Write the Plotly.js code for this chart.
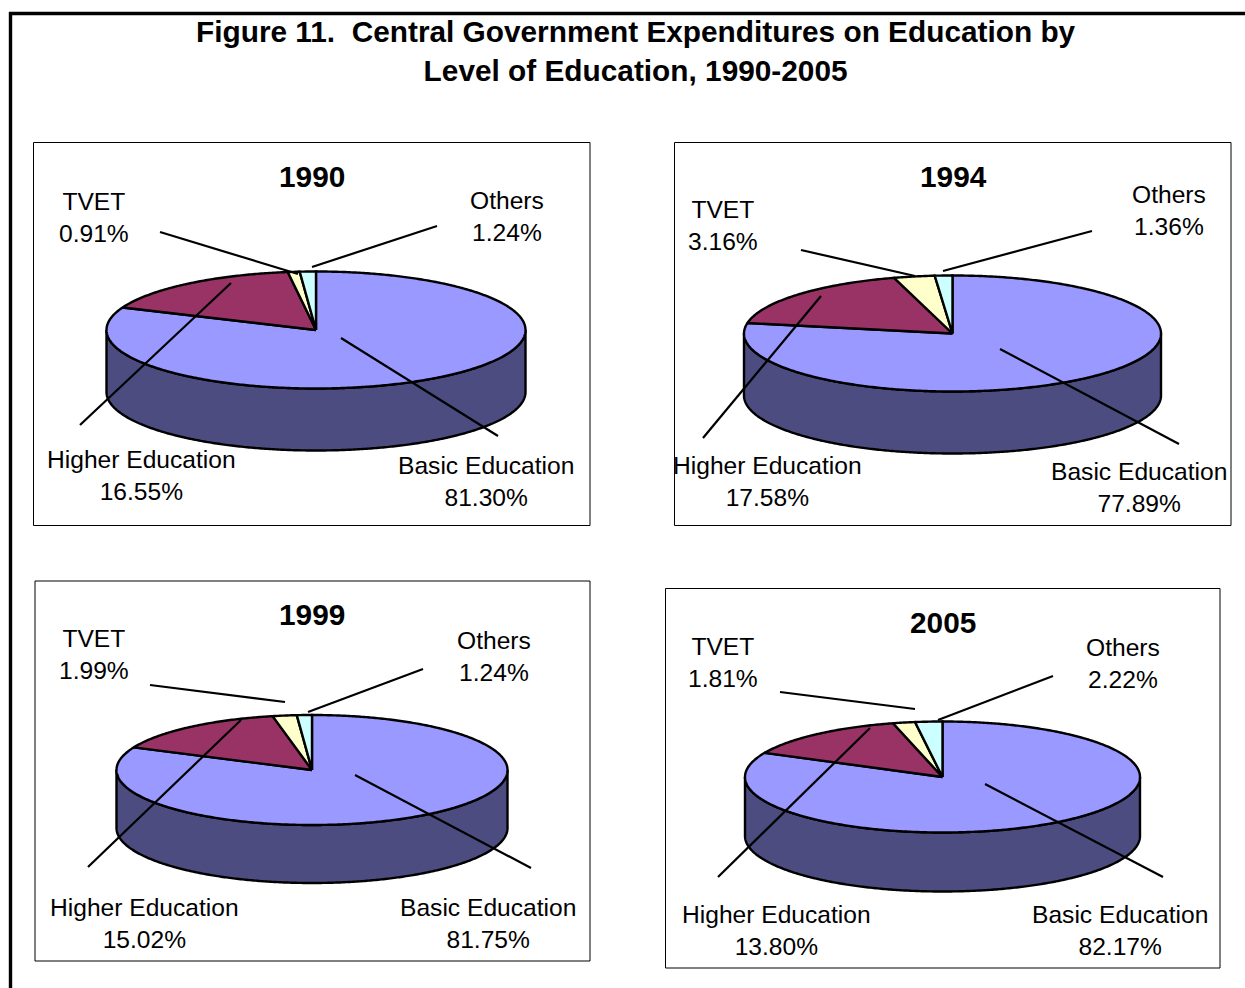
<!DOCTYPE html>
<html><head><meta charset="utf-8">
<script src="https://cdn.plot.ly/plotly-3.0.1.min.js"></script>
<style>html,body{margin:0;padding:0;background:#fff;overflow:hidden}</style>
</head><body><div id="chart" style="width:1245px;height:988px"></div>
<script>
// ---- data ----
const categories = ['Basic Education', 'Higher Education', 'TVET', 'Others'];
const years = ['1990', '1994', '1999', '2005'];
const basicEducation = [81.30, 77.89, 81.75, 82.17];
const higherEducation = [16.55, 17.58, 15.02, 13.80];
const tvet = [0.91, 3.16, 1.99, 1.81];
const others = [1.24, 1.36, 1.24, 2.22];
const sliceColors = ['#9999FF', '#993366', '#FFFFCC', '#CCFFFF'];
const wallColors = ['#4C4C80', '#4C1933', '#808066', '#668080'];

// ---- page layout (pixel-mapped axes) ----
const panelBoxes = [[33.5,142.5,590,525.5],[674.5,142.5,1231,525.5],[35,581,590,961],[665.5,588.5,1220,968]];
const pieGeom = [
  {cx:316, cy:330, a:209.5, b:58.5, d:62},
  {cx:952.5, cy:333.5, a:208.5, b:58, d:62},
  {cx:312, cy:770, a:195.5, b:55, d:58},
  {cx:942.5, cy:777, a:197.5, b:55.5, d:59}
];
const yearPos = [[312,176.5],[953,176.5],[312,614.5],[943,622.5]];
const labelPos = [
  [[486,481.5],[141,475.5],[94,217.5],[507,216.5]],
  [[1139,487.5],[767,481.5],[723,225.5],[1169,210.5]],
  [[488,923.5],[144.5,923.5],[94,654.5],[494,656.5]],
  [[1120,930],[776.5,930],[723,662.5],[1123,663.5]]
];
const leaders = [
  [[341,338,498,436],[231,283,80,425],[160,232,298,274],[437,226,312,267]],
  [[1000,349,1179,444],[821,296,703,438],[801,250,915,276],[1092,231,943,271]],
  [[355,775,531,868],[241,720,88,867],[150,685,285,702],[423,669,308,712]],
  [[985,784,1163,877],[870,728,718,877],[780,692,915,709],[1053,676,938,720]]
];

const FONT = '"Liberation Sans", Arial, sans-serif';
const traces = [], shapes = [], annotations = [];
const ln = (x0,y0,x1,y1,w) => ({type:'line',xref:'x',yref:'y',x0,y0,x1,y1,line:{color:'#000',width:w}});

years.forEach((yr, i) => {
  const g = pieGeom[i];
  const vals = [basicEducation[i], higherEducation[i], tvet[i], others[i]];
  const total = vals.reduce((s,v) => s+v, 0);
  const px = t => g.cx + g.a*Math.sin(t);
  const py = t => g.cy - g.b*Math.cos(t);
  let start = 0;
  const spans = vals.map(v => { const s = start; start += v/total*2*Math.PI; return [s,start]; });

  // side walls: the front-facing part of each slice
  spans.forEach(([s,e], k) => {
    const lo = Math.max(s, Math.PI/2), hi = Math.min(e, 3*Math.PI/2);
    if (hi <= lo) return;
    const n = Math.max(2, Math.ceil((hi-lo)/0.01));
    const xs = [], ys = [];
    for (let j=0;j<=n;j++){ const t = lo+(hi-lo)*j/n; xs.push(px(t)); ys.push(py(t)); }
    for (let j=n;j>=0;j--){ const t = lo+(hi-lo)*j/n; xs.push(px(t)); ys.push(py(t)+g.d); }
    xs.push(xs[0]); ys.push(ys[0]);
    traces.push({type:'scatter',mode:'lines',x:xs,y:ys,fill:'toself',fillcolor:wallColors[k],
      line:{color:'#000',width:2.4,simplify:false},hoverinfo:'skip',showlegend:false});
  });
  // top slices
  spans.forEach(([s,e], k) => {
    const n = Math.max(2, Math.ceil((e-s)/0.01));
    const xs = [g.cx], ys = [g.cy];
    for (let j=0;j<=n;j++){ const t = s+(e-s)*j/n; xs.push(px(t)); ys.push(py(t)); }
    xs.push(g.cx); ys.push(g.cy);
    traces.push({type:'scatter',mode:'lines',x:xs,y:ys,fill:'toself',fillcolor:sliceColors[k],
      line:{color:'#000',width:2.4,simplify:false},name:categories[k],
      text:yr+' '+categories[k]+' '+vals[k].toFixed(2)+'%',hoverinfo:'text',showlegend:false});
  });

  const b = panelBoxes[i];
  shapes.push({type:'rect',xref:'x',yref:'y',x0:b[0],y0:b[1],x1:b[2],y1:b[3],line:{color:'#000',width:1},layer:'below'});
  leaders[i].forEach(l => shapes.push(ln(l[0],l[1],l[2],l[3],2.2)));

  annotations.push({xref:'x',yref:'y',x:yearPos[i][0],y:yearPos[i][1],text:'<b>'+yr+'</b>',showarrow:false,
    xanchor:'center',yanchor:'middle',font:{family:FONT,size:29.8,color:'#000'}});
  categories.forEach((c,k) => annotations.push({xref:'x',yref:'y',x:labelPos[i][k][0],y:labelPos[i][k][1],
    text:c+'<br>'+vals[k].toFixed(2)+'%',showarrow:false,align:'center',xanchor:'center',yanchor:'middle',
    font:{family:FONT,size:24.6,color:'#000'}}));
});

annotations.push({xref:'x',yref:'y',x:635.5,y:51,showarrow:false,align:'center',xanchor:'center',yanchor:'middle',
  text:'<b>Figure 11.\u00a0 Central Government Expenditures on Education by<br>Level of Education, 1990-2005</b>',
  font:{family:FONT,size:29.8,color:'#000'}});
shapes.push(ln(10.5,12,10.5,988,3.4));
shapes.push(ln(9,13.5,1245,13.5,3.4));

Plotly.newPlot('chart', traces, {
  width:1245, height:988, margin:{l:0,r:0,t:0,b:0},
  paper_bgcolor:'#fff', plot_bgcolor:'#fff', showlegend:false,
  xaxis:{range:[0,1245],visible:false,fixedrange:true},
  yaxis:{range:[988,0],visible:false,fixedrange:true},
  shapes, annotations
}, {displayModeBar:false});
</script></body></html>
